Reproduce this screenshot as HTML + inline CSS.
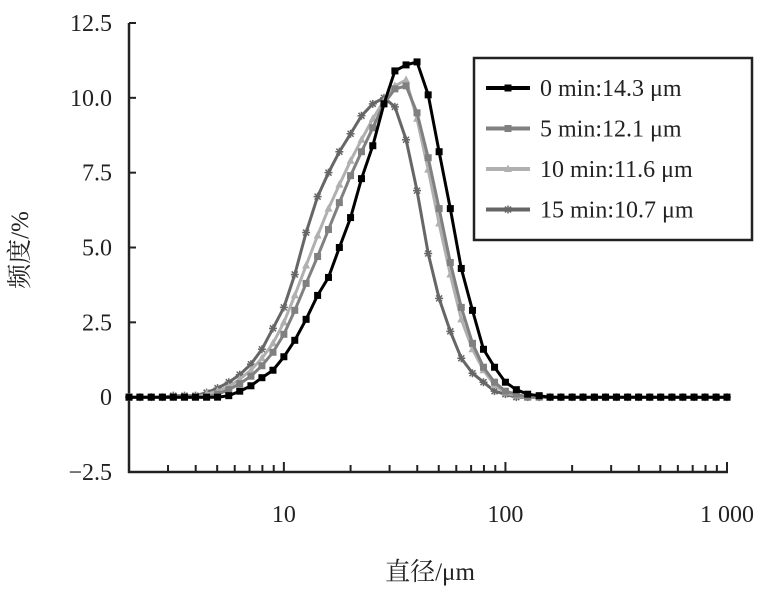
<!DOCTYPE html>
<html><head><meta charset="utf-8"><style>
html,body{margin:0;padding:0;background:#fff;}
svg text{font-family:"Liberation Serif","Noto Serif CJK SC",serif;}
</style></head><body>
<svg id="chart" width="772" height="589" viewBox="0 0 772 589" xmlns="http://www.w3.org/2000/svg">
<g id="axes"></g>
<g id="series"></g>
<g id="legend"></g>
<text transform="translate(28,250) rotate(-90)" text-anchor="middle" font-size="25" fill="#222">频度/%</text>
<text x="430" y="580" text-anchor="middle" font-size="25" fill="#222">直径/μm</text>
</svg>
<script>
const diameters=[2.0,2.24,2.52,2.83,3.17,3.56,3.99,4.48,5.02,5.64,6.32,7.10,7.96,8.93,10.0,11.2,12.6,14.2,15.9,17.8,20.0,22.4,25.2,28.3,31.7,35.6,39.9,44.8,50.2,56.4,63.2,71.0,79.6,89.3,100,112,126,142,159,178,200,224,252,283,317,356,399,448,502,564,632,710,796,893,1000];
const s0=[0,0,0,0,0,0,0,0,0,0.05,0.2,0.38,0.65,0.9,1.35,1.9,2.6,3.4,4.0,5.0,6.0,7.3,8.4,9.8,10.9,11.1,11.2,10.1,8.2,6.3,4.3,2.9,1.6,1.0,0.5,0.25,0.1,0.05,0,0,0,0,0,0,0,0,0,0,0,0,0,0,0,0,0];
const s5=[0,0,0,0,0,0,0,0,0.1,0.25,0.45,0.7,1.05,1.5,2.1,2.9,3.8,4.7,5.6,6.5,7.4,8.2,9.0,9.8,10.3,10.4,9.5,8.0,6.3,4.5,3.0,1.8,1.0,0.5,0.2,0.1,0,0,0,0,0,0,0,0,0,0,0,0,0,0,0,0,0,0,0];
const s10=[0,0,0,0,0,0,0,0.1,0.2,0.35,0.6,0.9,1.3,1.8,2.5,3.4,4.4,5.4,6.3,7.1,7.9,8.6,9.3,9.9,10.4,10.6,9.3,7.6,5.8,4.1,2.6,1.6,0.9,0.4,0.15,0.05,0,0,0,0,0,0,0,0,0,0,0,0,0,0,0,0,0,0,0];
const s15=[0,0,0,0,0.05,0.05,0.05,0.15,0.3,0.5,0.75,1.1,1.6,2.3,3.0,4.1,5.5,6.7,7.5,8.2,8.8,9.4,9.8,10.0,9.7,8.6,6.9,4.8,3.3,2.2,1.3,0.8,0.5,0.2,0.1,0,0,0,0,0,0,0,0,0,0,0,0,0,0,0,0,0,0,0,0];
const seriesLabels=["0 min:14.3 μm","5 min:12.1 μm","10 min:11.6 μm","15 min:10.7 μm"];
const yTicks=[-2.5,0,2.5,5,7.5,10,12.5];
const yTickLabels=["−2.5","0","2.5","5.0","7.5","10.0","12.5"];
const xMajor=[10,100,1000];
const xMajorLabels=["10","100","1 000"];

const NS="http://www.w3.org/2000/svg";
const L=129,R=727,T=23,B=472;
const xMin=2,xMax=1000,yMin=-2.5,yMax=12.5;
function xs(v){return L+(Math.log10(v)-Math.log10(xMin))/(Math.log10(xMax)-Math.log10(xMin))*(R-L);}
function ys(v){return B-(v-yMin)/(yMax-yMin)*(B-T);}
function mk(tag,attrs,parent){const e=document.createElementNS(NS,tag);for(const k in attrs)e.setAttribute(k,attrs[k]);parent.appendChild(e);return e;}
const axes=document.getElementById('axes');
let e=mk('line',{x1:L,y1:T,x2:L,y2:B+1,stroke:'#222','stroke-width':2.5},axes);


e=mk('line',{x1:L-1,y1:B,x2:R+1,y2:B,stroke:'#222','stroke-width':2.5},axes);


yTicks.forEach((v,i)=>{
  const t=mk('line',{x1:L,y1:ys(v),x2:L+7,y2:ys(v),stroke:'#222','stroke-width':2},axes);
  
  
  const tx=mk('text',{x:112,y:ys(v)+8,'text-anchor':'end','font-size':24,fill:'#222'},axes);
  tx.textContent=yTickLabels[i];
  
  
});
for(let dec=1;dec<=1000;dec*=10){
  for(let m=1;m<10;m++){
    const v=dec*m; if(v<xMin||v>xMax) continue;
    const major=(m===1);
    const t=mk('line',{x1:xs(v),y1:B,x2:xs(v),y2:B-(major?10:7),stroke:'#222','stroke-width':2},axes);
    
    
  }
}
xMajor.forEach((v,i)=>{
  const tx=mk('text',{x:xs(v),y:522,'text-anchor':'middle','font-size':24,fill:'#222'},axes);
  tx.textContent=xMajorLabels[i];
  
  
});
const colors=['#000','#808080','#b0b0b0','#666'];
const allSeries=[s0,s5,s10,s15];
const markers=['square','square','triangle','star'];
function marker(g,type,x,y,c){
  let m;
  if(type==='square') m=mk('rect',{x:x-3.5,y:y-3.5,width:7,height:7,fill:c},g);
  else if(type==='triangle') m=mk('polygon',{points:`${x},${y-4.5} ${x-4},${y+3} ${x+4},${y+3}`,fill:c},g);
  else m=mk('path',{d:`M${x-4},${y}H${x+4}M${x},${y-4}V${x+4>0?y+4:y}M${x-3},${y-3}L${x+3},${y+3}M${x+3},${y-3}L${x-3},${y+3}`,stroke:c,'stroke-width':1.5},g);
  return m;
}
const sg=document.getElementById('series');
[3,2,1,0].forEach(si=>{
  const g=mk('g',{},sg);
  
  
  const vals=allSeries[si];
  const pts=diameters.map((d,i)=>xs(d).toFixed(1)+','+ys(vals[i]).toFixed(1)).join(' ');
  const pl=mk('polyline',{points:pts,fill:'none',stroke:colors[si],'stroke-width':3},g);
  
  
  diameters.forEach((d,i)=>{
    const m=marker(g,markers[si],xs(d),ys(vals[i]),colors[si]);
    
    
  });
});
const lg=document.getElementById('legend');
const box=mk('rect',{x:474,y:58,width:278,height:182,fill:'#fff',stroke:'#222','stroke-width':2.5},lg);


seriesLabels.forEach((lab,i)=>{
  const y=88+i*40.5;
  const g=mk('g',{},lg);
  
  
  mk('line',{x1:486,y1:y,x2:530,y2:y,stroke:colors[i],'stroke-width':4},g);
  marker(g,markers[i],508,y,colors[i]);
  const t=mk('text',{x:540,y:y+8,'font-size':24,fill:'#222'},g);
  t.textContent=lab;
});
</script>
</body></html>
